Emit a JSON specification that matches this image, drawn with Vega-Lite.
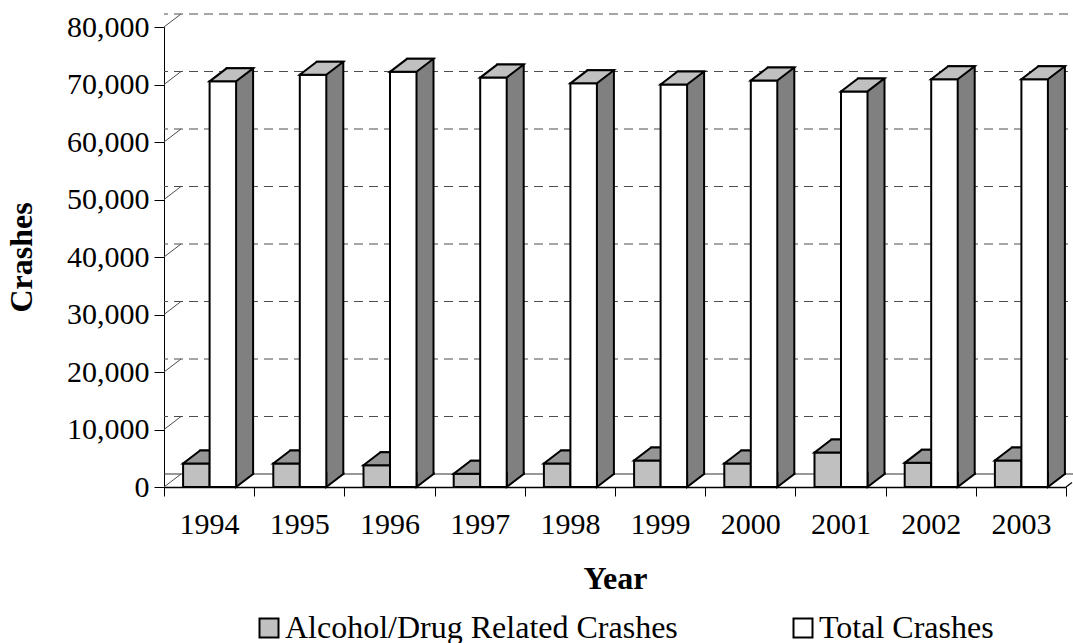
{
  "$schema": "https://vega.github.io/schema/vega-lite/v6.json",
  "width": 902,
  "height": 460,
  "padding": {"left": 5, "top": 12, "right": 0, "bottom": 0},
  "background": "white",
  "config": {
    "view": {"stroke": null},
    "font": "Liberation Serif",
    "axisX": {"tickBand": "extent", "tickSize": 9, "tickColor": "black", "tickWidth": 1, "domainColor": "black", "domainWidth": 1.5, "labelFont": "Liberation Serif", "labelFontSize": 30, "labelColor": "black", "labelPadding": 13, "labelAngle": 0, "titleFont": "Liberation Serif", "titleFontSize": 32, "titleFontWeight": "bold", "titleColor": "black", "titlePadding": 24, "grid": false, "labelOverlap": false},
    "axisY": {"tickSize": 10, "tickColor": "black", "tickWidth": 1, "domainColor": "black", "domainWidth": 1, "labelFont": "Liberation Serif", "labelFontSize": 30, "labelColor": "black", "labelPadding": 5, "titleFont": "Liberation Serif", "titleFontSize": 32, "titleFontWeight": "bold", "titleColor": "black", "titlePadding": 28, "grid": false, "labelOverlap": false}
  },
  "datasets": {
    "crashes": [
      {"year": "1994", "series": "Alcohol/Drug Related Crashes", "crashes": 4100},
      {"year": "1995", "series": "Alcohol/Drug Related Crashes", "crashes": 4100},
      {"year": "1996", "series": "Alcohol/Drug Related Crashes", "crashes": 3800},
      {"year": "1997", "series": "Alcohol/Drug Related Crashes", "crashes": 2300},
      {"year": "1998", "series": "Alcohol/Drug Related Crashes", "crashes": 4100},
      {"year": "1999", "series": "Alcohol/Drug Related Crashes", "crashes": 4600},
      {"year": "2000", "series": "Alcohol/Drug Related Crashes", "crashes": 4100},
      {"year": "2001", "series": "Alcohol/Drug Related Crashes", "crashes": 6000},
      {"year": "2002", "series": "Alcohol/Drug Related Crashes", "crashes": 4200},
      {"year": "2003", "series": "Alcohol/Drug Related Crashes", "crashes": 4600},
      {"year": "1994", "series": "Total Crashes", "crashes": 70550},
      {"year": "1995", "series": "Total Crashes", "crashes": 71700},
      {"year": "1996", "series": "Total Crashes", "crashes": 72200},
      {"year": "1997", "series": "Total Crashes", "crashes": 71200},
      {"year": "1998", "series": "Total Crashes", "crashes": 70200},
      {"year": "1999", "series": "Total Crashes", "crashes": 70000},
      {"year": "2000", "series": "Total Crashes", "crashes": 70700},
      {"year": "2001", "series": "Total Crashes", "crashes": 68800},
      {"year": "2002", "series": "Total Crashes", "crashes": 70900},
      {"year": "2003", "series": "Total Crashes", "crashes": 70900}
    ],
    "grid": [
      {"v": 0}, {"v": 10000}, {"v": 20000}, {"v": 30000}, {"v": 40000},
      {"v": 50000}, {"v": 60000}, {"v": 70000}, {"v": 80000}
    ]
  },
  "layer": [
    {
      "data": {"name": "grid"},
      "transform": [{"filter": "datum.v > 0"}],
      "mark": {"type": "rule", "strokeDash": [9, 6], "color": "#4d4d4d", "strokeWidth": 1, "xOffset": 17, "x2Offset": 6, "yOffset": -13},
      "encoding": {
        "y": {"field": "v", "type": "quantitative", "title": "Crashes", "scale": {"domain": [0, 80000], "nice": false, "zero": true}, "axis": {"values": [0, 10000, 20000, 30000, 40000, 50000, 60000, 70000, 80000], "format": ",d"}}
      }
    },
    {
      "data": {"name": "grid"},
      "transform": [{"filter": "datum.v == 0"}],
      "mark": {"type": "rule", "color": "#333333", "strokeWidth": 1.2, "xOffset": 17, "x2Offset": 6, "yOffset": -13},
      "encoding": {
        "y": {"field": "v", "type": "quantitative", "title": "Crashes", "axis": {"values": [0, 10000, 20000, 30000, 40000, 50000, 60000, 70000, 80000], "format": ",d"}}
      }
    },
    {
      "data": {"name": "grid"},
      "mark": {"type": "point", "shape": "M-45.1,0 L-28.1,-13", "size": 4, "filled": false, "stroke": "#4d4d4d", "strokeWidth": 1, "opacity": 1},
      "encoding": {
        "x": {"datum": "1994", "type": "ordinal", "title": "Year"},
        "y": {"field": "v", "type": "quantitative", "title": "Crashes", "axis": {"values": [0, 10000, 20000, 30000, 40000, 50000, 60000, 70000, 80000], "format": ",d"}}
      }
    },
    {
      "data": {"name": "crashes"},
      "transform": [{"filter": "datum.series == 'Total Crashes' && datum.year == '2003'"}],
      "mark": {"type": "point", "shape": "M45.1,0 L51.1,-4.6", "size": 4, "filled": false, "stroke": "black", "strokeWidth": 1.2, "opacity": 1},
      "encoding": {
        "x": {"field": "year", "type": "ordinal", "title": "Year"},
        "y": {"datum": 0, "type": "quantitative", "title": "Crashes", "axis": {"values": [0, 10000, 20000, 30000, 40000, 50000, 60000, 70000, 80000], "format": ",d"}}
      }
    },
    {
      "data": {"name": "crashes"},
      "transform": [{"filter": "datum.series == 'Alcohol/Drug Related Crashes'"}],
      "mark": {"type": "bar", "width": 26.5, "xOffset": 4.25, "yOffset": -13, "y2Offset": -13, "fill": "#5f5f5f", "stroke": "black", "strokeWidth": 2},
      "encoding": {
        "x": {"field": "year", "type": "ordinal", "title": "Year", "scale": {"paddingInner": 0, "paddingOuter": 0}},
        "y": {"field": "crashes", "type": "quantitative", "title": "Crashes", "axis": {"values": [0, 10000, 20000, 30000, 40000, 50000, 60000, 70000, 80000], "format": ",d"}}
      }
    },
    {
      "data": {"name": "crashes"},
      "transform": [{"filter": "datum.series == 'Alcohol/Drug Related Crashes'"}],
      "mark": {"type": "bar", "width": 26.5, "xOffset": -12.75, "stroke": "black", "strokeWidth": 2, "opacity": 1},
      "encoding": {
        "x": {"field": "year", "type": "ordinal", "title": "Year"},
        "y": {"field": "crashes", "type": "quantitative", "title": "Crashes", "axis": {"values": [0, 10000, 20000, 30000, 40000, 50000, 60000, 70000, 80000], "format": ",d"}},
        "fill": {"field": "series", "type": "nominal", "scale": {"domain": ["Alcohol/Drug Related Crashes", "Total Crashes"], "range": ["#c0c0c0", "#ffffff"]}, "legend": {"orient": "none", "legendX": 89, "legendY": 585, "direction": "horizontal", "columns": 2, "title": null, "symbolType": "square", "symbolSize": 361, "symbolStrokeColor": "black", "symbolStrokeWidth": 2, "symbolOpacity": 1, "labelFont": "Liberation Serif", "labelFontSize": 32, "labelColor": "black", "labelOffset": 0, "columnPadding": 109, "padding": 0, "labelLimit": 600}}
      }
    },
    {
      "data": {"name": "crashes"},
      "transform": [{"filter": "datum.series == 'Alcohol/Drug Related Crashes'"}],
      "mark": {"type": "point", "shape": "M-26,0 L0.5,0 L17.5,-13 L-9,-13 Z", "size": 4, "filled": true, "fill": "#969696", "stroke": "black", "strokeWidth": 2, "opacity": 1},
      "encoding": {
        "x": {"field": "year", "type": "ordinal", "title": "Year"},
        "y": {"field": "crashes", "type": "quantitative", "title": "Crashes", "axis": {"values": [0, 10000, 20000, 30000, 40000, 50000, 60000, 70000, 80000], "format": ",d"}}
      }
    },
    {
      "data": {"name": "crashes"},
      "transform": [{"filter": "datum.series == 'Total Crashes'"}],
      "mark": {"type": "bar", "width": 26.5, "xOffset": 30.75, "yOffset": -13, "y2Offset": -13, "fill": "#808080", "stroke": "black", "strokeWidth": 2},
      "encoding": {
        "x": {"field": "year", "type": "ordinal", "title": "Year"},
        "y": {"field": "crashes", "type": "quantitative", "title": "Crashes", "axis": {"values": [0, 10000, 20000, 30000, 40000, 50000, 60000, 70000, 80000], "format": ",d"}}
      }
    },
    {
      "data": {"name": "crashes"},
      "transform": [{"filter": "datum.series == 'Total Crashes'"}],
      "mark": {"type": "point", "shape": "M44,-15 L44,-13 L27,0 L27,-15", "size": 4, "filled": true, "fill": "#808080", "stroke": "black", "strokeWidth": 2, "opacity": 1},
      "encoding": {
        "x": {"field": "year", "type": "ordinal", "title": "Year"},
        "y": {"datum": 0, "type": "quantitative", "title": "Crashes", "axis": {"values": [0, 10000, 20000, 30000, 40000, 50000, 60000, 70000, 80000], "format": ",d"}}
      }
    },
    {
      "data": {"name": "crashes"},
      "transform": [{"filter": "datum.series == 'Total Crashes'"}],
      "mark": {"type": "bar", "width": 26.5, "xOffset": 13.75, "stroke": "black", "strokeWidth": 2, "opacity": 1},
      "encoding": {
        "x": {"field": "year", "type": "ordinal", "title": "Year"},
        "y": {"field": "crashes", "type": "quantitative", "title": "Crashes", "axis": {"values": [0, 10000, 20000, 30000, 40000, 50000, 60000, 70000, 80000], "format": ",d"}},
        "fill": {"field": "series", "type": "nominal"}
      }
    },
    {
      "data": {"name": "crashes"},
      "transform": [{"filter": "datum.series == 'Total Crashes'"}],
      "mark": {"type": "point", "shape": "M0.5,0 L27,0 L44,-13 L17.5,-13 Z", "size": 4, "filled": true, "fill": "#c0c0c0", "stroke": "black", "strokeWidth": 2, "opacity": 1},
      "encoding": {
        "x": {"field": "year", "type": "ordinal", "title": "Year"},
        "y": {"field": "crashes", "type": "quantitative", "title": "Crashes", "axis": {"values": [0, 10000, 20000, 30000, 40000, 50000, 60000, 70000, 80000], "format": ",d"}}
      }
    }
  ]
}
